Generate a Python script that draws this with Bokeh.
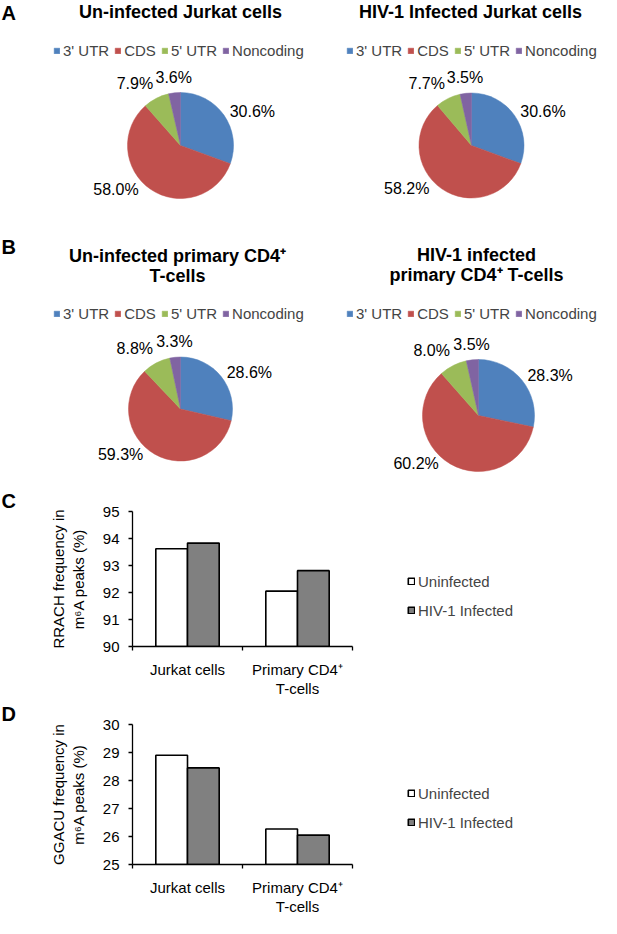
import numpy as np
from bokeh.plotting import figure
from bokeh.layouts import column, row
from bokeh.models import Range1d, Legend, LegendItem, FixedTicker
from bokeh.core.properties import value
from bokeh.embed import file_html
from bokeh.resources import INLINE

# ---------------- data ----------------
regions = ["3' UTR", "CDS", "5' UTR", "Noncoding"]
region_colors = ["#4F81BD", "#C0504D", "#9BBB59", "#8064A2"]

jurkat_uninfected = [30.6, 58.0, 7.9, 3.6]
jurkat_infected = [30.6, 58.2, 7.7, 3.5]
cd4_uninfected = [28.6, 59.3, 8.8, 3.3]
cd4_infected = [28.3, 60.2, 8.0, 3.5]

bar_categories = ["Jurkat cells", "Primary CD4\u207a\nT-cells"]
bar_series = ["Uninfected", "HIV-1 Infected"]
rrach_uninfected = [93.62, 92.05]
rrach_infected = [93.83, 92.81]
rrach_ticks = [90, 91, 92, 93, 94, 95]
ggacu_uninfected = [28.90, 26.27]
ggacu_infected = [28.45, 26.05]
ggacu_ticks = [25, 26, 27, 28, 29, 30]

FONT = "Liberation Sans"


def blank(W, H):
    p = figure(width=W, height=H, x_range=Range1d(0, W), y_range=Range1d(0, H),
               min_border=0, toolbar_location=None, output_backend="svg")
    p.axis.visible = False
    p.grid.visible = False
    p.outline_line_color = None
    p.background_fill_color = "white"
    p.border_fill_color = "white"
    return p


def pie_panel(letter, title_lines, values, W, H, cx, cy, r, title_x, title_y,
              legend_x, legend_y, letter_y):
    p = blank(W, H)
    fy = lambda y: H - y
    if letter:
        p.text(x=[1], y=[fy(letter_y)], text=[letter], text_font=value(FONT),
               text_font_size="20px", text_font_style="bold",
               text_baseline="middle", text_align="left", text_color="black")
    ys = [fy(title_y + 20 * i) for i in range(len(title_lines))]
    p.text(x=[title_x] * len(title_lines), y=ys, text=title_lines,
           text_font=value(FONT), text_font_size="18px", text_font_style="bold",
           text_baseline="middle", text_align="center", text_color="black")

    vals = np.array(values, float)
    frac = vals / vals.sum()
    cum = np.concatenate([[0.0], np.cumsum(frac)])
    a_start = np.pi / 2 - cum[1:] * 2 * np.pi
    a_end = np.pi / 2 - cum[:-1] * 2 * np.pi
    items = []
    for i in range(len(vals)):
        rr = p.wedge(x=cx, y=fy(cy), radius=r, start_angle=a_start[i], end_angle=a_end[i],
                     fill_color=region_colors[i], line_color=region_colors[i], line_width=0.5)
        items.append(LegendItem(label=regions[i], renderers=[rr]))

    mid = (a_start + a_end) / 2
    pad = 7
    for i in range(len(vals)):
        c, s = np.cos(mid[i]), np.sin(mid[i])
        ax = cx + (r + pad) * c
        ay = fy(cy) + (r + pad) * s
        align = "left" if c > 0.3 else ("right" if c < -0.3 else "center")
        base = "bottom" if s > 0.85 else ("top" if s < -0.95 else "middle")
        if i == 1:  # large slice label sits further out to the left (as in the original)
            ax -= 8
            ay += 6
        p.text(x=[ax], y=[ay], text=[f"{values[i]:.1f}%"], text_font=value(FONT),
               text_font_size="16px", text_align=align, text_baseline=base,
               text_color="black")

    leg = Legend(items=items, orientation="horizontal", location=(legend_x, H - legend_y - 9),
                 label_text_font=FONT, label_text_font_size="15px", label_height=18,
                 glyph_width=7, glyph_height=7, label_standoff=3, spacing=5,
                 padding=0, margin=0, border_line_color=None, background_fill_alpha=0)
    p.add_layout(leg)
    return p


def bar_panel(letter, ylabel, uninf, inf, ticks, H, frame_top, frame_h, legend_bottom):
    W = 601
    LEFT = 132
    UNIT = 110
    p = figure(width=W, height=H, x_range=Range1d(0, (W - LEFT) / UNIT),
               y_range=Range1d(ticks[0], ticks[-1]),
               min_border_left=LEFT, min_border_right=0, min_border_top=frame_top,
               min_border_bottom=H - frame_top - frame_h,
               toolbar_location=None, output_backend="svg", title=letter)
    p.title.align = "left"
    p.title.offset = -(LEFT - 1)
    p.title.standoff = 0
    p.title.text_font = FONT
    p.title.text_font_size = "20px"
    p.title.text_font_style = "bold"
    p.title.text_color = "black"
    p.grid.visible = False
    p.outline_line_color = None
    x_idx = np.arange(len(bar_categories)) + 0.5
    bw = 0.288
    r1 = p.vbar(x=x_idx - bw / 2, top=uninf, bottom=ticks[0], width=bw,
                fill_color="white", line_color="black", line_width=1.6)
    r2 = p.vbar(x=x_idx + bw / 2, top=inf, bottom=ticks[0], width=bw,
                fill_color="#808080", line_color="black", line_width=1.6)

    xa = p.xaxis[0]
    xa.ticker = FixedTicker(ticks=list(x_idx), minor_ticks=list(range(len(bar_categories) + 1)))
    xa.major_label_overrides = {float(x): c for x, c in zip(x_idx, bar_categories)}
    xa.bounds = (0, len(bar_categories))
    xa.axis_line_width = 1.3
    xa.major_tick_line_color = None
    xa.major_tick_out = 0
    xa.major_tick_in = 0
    xa.minor_tick_line_color = "black"
    xa.minor_tick_line_width = 1.3
    xa.minor_tick_out = 4
    xa.minor_tick_in = 0
    xa.major_label_standoff = 10
    xa.major_label_text_font = FONT
    xa.major_label_text_font_size = "15px"
    xa.major_label_text_line_height = 1.15
    xa.major_label_text_color = "black"

    ya = p.yaxis[0]
    ya.ticker = FixedTicker(ticks=ticks)
    ya.axis_line_width = 1.3
    ya.major_tick_line_width = 1.3
    ya.minor_tick_line_color = None
    ya.major_tick_out = 4
    ya.major_tick_in = 0
    ya.major_label_standoff = 9
    ya.major_label_text_font = FONT
    ya.major_label_text_font_size = "15px"
    ya.major_label_text_color = "black"
    ya.axis_label = ylabel
    ya.axis_label_text_font = FONT
    ya.axis_label_text_font_size = "15px"
    ya.axis_label_text_font_style = "normal"
    ya.axis_label_text_line_height = 1.15
    ya.axis_label_standoff = 13
    ya.axis_label_text_color = "black"

    leg = Legend(items=[LegendItem(label=bar_series[0], renderers=[r1]),
                        LegendItem(label=bar_series[1], renderers=[r2])],
                 location=(275, legend_bottom), orientation="vertical",
                 label_text_font=FONT, label_text_font_size="15px", label_height=20,
                 glyph_width=8, glyph_height=8, label_standoff=3, spacing=9,
                 padding=0, margin=0, border_line_color=None, background_fill_alpha=0)
    p.add_layout(leg)
    return p


pA1 = pie_panel("A", ["Un-infected Jurkat cells"], jurkat_uninfected, 306, 230,
                180, 145, 53, 180, 11, 53, 50, 12)
pA2 = pie_panel(None, ["HIV-1 Infected Jurkat cells"], jurkat_infected, 295, 230,
                165, 145, 52.5, 164, 11, 40, 50, 12)
pB1 = pie_panel("B", ["Un-infected primary CD4\u207a", "T-cells"], cd4_uninfected, 306, 250,
                180, 178.5, 52, 177, 25, 53, 83, 16)
pB2 = pie_panel(None, ["HIV-1 infected", "primary CD4\u207a T-cells"], cd4_infected, 295, 250,
                172, 185, 56, 170, 24, 40, 83, 16)

pC = bar_panel("C", "RRACH frequency in\nm\u2076A peaks (%)", rrach_uninfected, rrach_infected,
               rrach_ticks, 220, 31, 139, 26)
pD = bar_panel("D", "GGACU frequency in\nm\u2076A peaks (%)", ggacu_uninfected, ggacu_infected,
               ggacu_ticks, 218, 24, 150, 32)

layout = column(row(pA1, pA2), row(pB1, pB2), pC, pD)
open("out.html", "w").write(file_html(layout, INLINE))
